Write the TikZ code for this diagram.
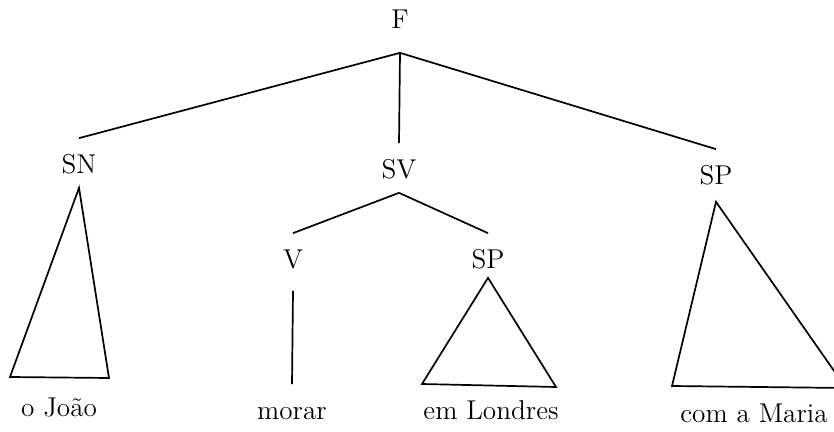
\documentclass[tikz,border=0pt]{standalone}
\begin{document}
\begin{tikzpicture}[x=0.5pt, y=-0.5pt, line width=0.85pt,
  every node/.style={font=\fontsize{13.6}{16}\selectfont},
  cat/.style={inner sep=0pt,minimum height=28pt,text height=9.2pt,text depth=2.6pt}]
\useasboundingbox (0,0) rectangle (834,432);
% F and its three daughters
\node[cat,minimum height=30pt] (f) at (400,22) {F};
\node[cat] (sn) at (79,167) {SN};
\node[cat] (sv) at (399,172) {SV};
\node[cat] (spr) at (716,178) {SP};
\draw (f.south) -- (sn.north);
\draw (f.south) -- (sv.north);
\draw (f.south) -- (spr.north);
% inside SV
\node[cat] (v) at (293,262) {V};
\node[cat] (spm) at (488,262) {SP};
\draw ([yshift=4pt]sv.south) -- (v.north);
\draw ([yshift=4pt]sv.south) -- (spm.north);
% words
\node[cat] (joao) at (59,410) {o João};
\node[cat] (morar) at (292,413) {morar};
\node[cat] (londres) at (491,413) {em Londres};
\node[cat] (maria) at (754,416) {com a Maria};
\draw (v.south) -- (morar.north);
% triangles
\draw ([yshift=4pt]sn.south) -- (10,377) -- (109,378) -- cycle;
\draw ([yshift=6.5pt]spm.south) -- (422,384) -- (556,387) -- cycle;
\draw ([yshift=2.5pt]spr.south) -- (672,386) -- (846,388) -- cycle;
\end{tikzpicture}
\end{document}
